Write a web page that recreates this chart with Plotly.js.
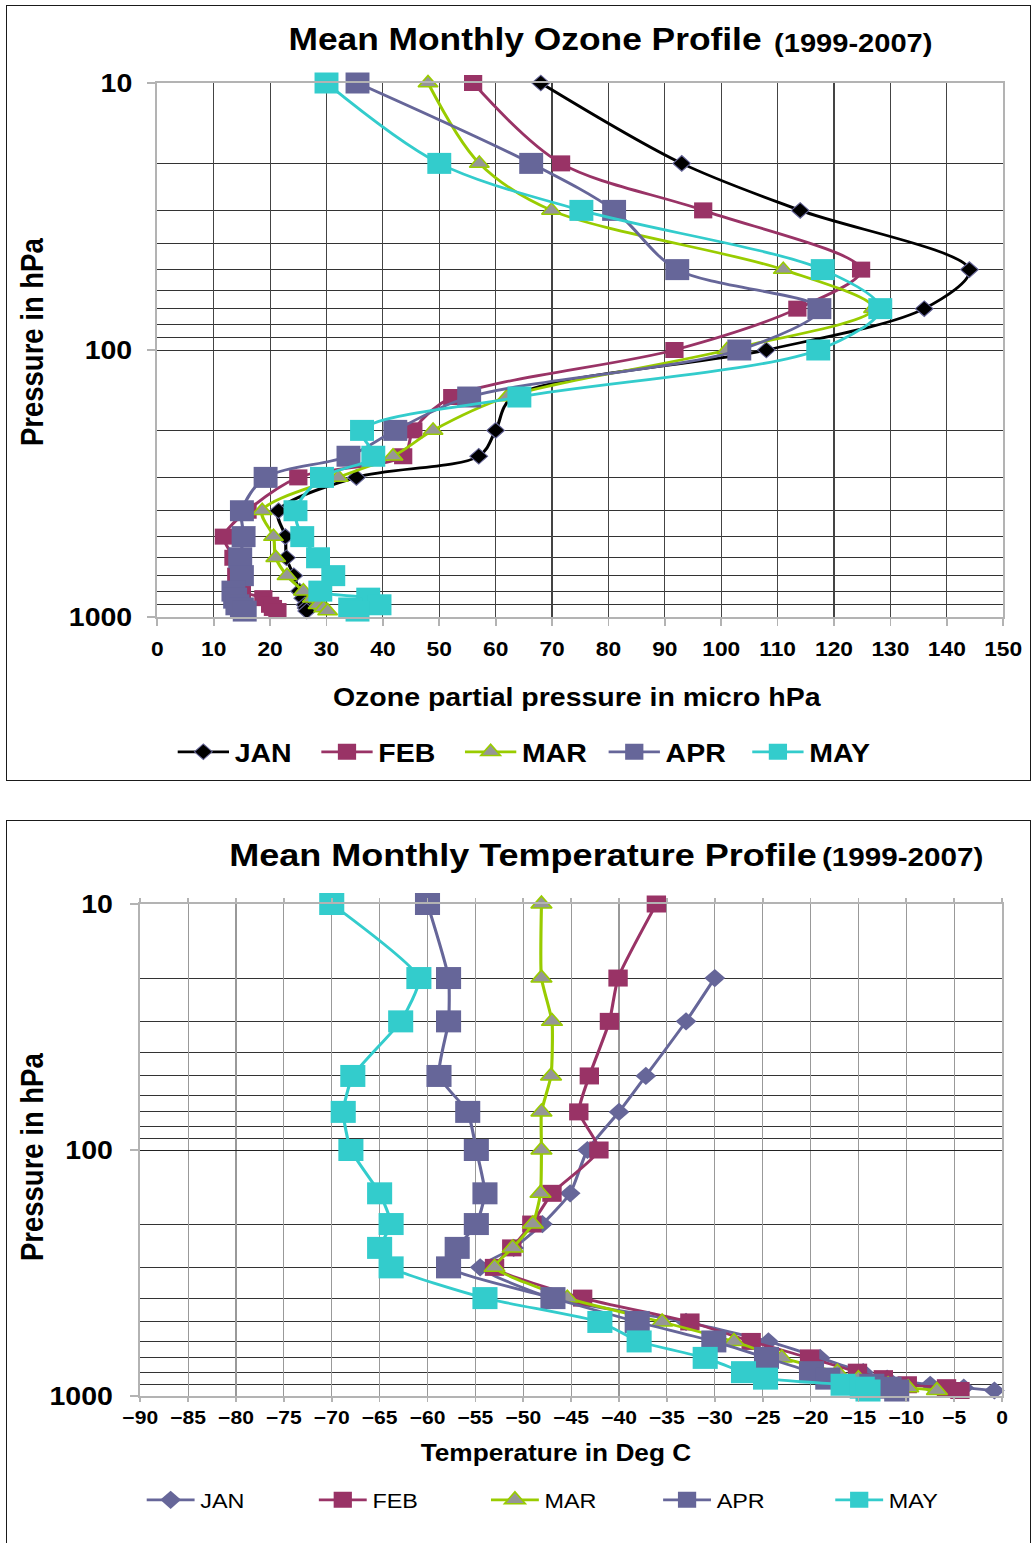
<!DOCTYPE html>
<html><head><meta charset="utf-8">
<script src="https://cdn.plot.ly/plotly-3.0.1.min.js"></script>
<style>
html,body{margin:0;padding:0;background:#fff;width:1034px;height:1543px;overflow:hidden;position:relative;}
.box{position:absolute;border:1.5px solid #1a1a1a;box-sizing:border-box;}
.stretch{position:absolute;left:0;transform:scaleX(1.14);transform-origin:0 0;}
</style></head><body>
<div class="box" style="left:6px;top:5px;width:1025px;height:776px;"></div>
<div class="box" style="left:6px;top:820px;width:1025px;height:760px;"></div>
<div id="oz" class="stretch" style="top:0;width:907px;height:800px;"></div>
<div id="tp" class="stretch" style="top:800px;width:907px;height:743px;"></div>
<script>
// ---------- DATA ----------
const PRESSURE = [10, 20, 30, 50, 70, 100, 150, 200, 250, 300, 400, 500, 600, 700, 800, 850, 900, 925, 950];
const MONTHS = ['JAN', 'FEB', 'MAR', 'APR', 'MAY'];

// Ozone partial pressure (micro hPa)
const OZONE_JAN = [68, 93, 114, 144, 136, 108, 63, 60, 57, 35.3, 21.5, 22.7, 22.9, 24.2, 25.2, 25.8, 26.2, 26.4, 26.5];
const OZONE_FEB = [56, 71.6, 96.8, 124.8, 113.5, 91.7, 52.3, 45.4, 43.6, 25, 16, 11.8, 13.5, 14, 15, 18.8, 20, 20.5, 21.3];
const OZONE_MAR = [48, 57.1, 69.9, 111, 127, 101, 62, 48.9, 41.8, 32.1, 18.6, 20.6, 21, 23, 25.9, 27.5, 28.5, 29.5, 30.2];
const OZONE_APR = [35.5, 66.3, 81, 92.2, 117.4, 103.2, 55.3, 42.2, 33.9, 19.2, 15, 15.3, 14.7, 15, 13.5, 13.8, 14.2, 15, 15.5];
const OZONE_MAY = [30, 50, 75.2, 118, 128.2, 117.2, 64.2, 36.3, 38.3, 29.2, 24.5, 25.7, 28.5, 31.2, 28.9, 37.4, 39.4, 34.2, 35.5];

// Temperature (deg C)
const TEMP_JAN = [null, -30, -33, -37.2, -40, -43.3, -45.1, -48, -51, -54.5, -47, -33, -24.4, -19, -14.5, -12, -7.5, -4, -0.8];
const TEMP_FEB = [-36.1, -40.1, -41, -43.1, -44.2, -42.1, -47, -49.1, -51.2, -53, -43.8, -32.6, -26.2, -20.1, -15.1, -12.4, -9.9, -5.8, -4.4];
const TEMP_MAR = [-48.1, -48.1, -47, -47.1, -48.1, -48.1, -48.2, -49, -51.1, -53, -45.4, -35.5, -28, -23, -17.2, -15, -11.9, -9.8, -6.8];
const TEMP_APR = [-60, -57.8, -57.8, -58.8, -55.8, -54.9, -54, -54.9, -56.9, -57.8, -46.9, -38.1, -30.1, -24.6, -19.9, -18.2, -13.6, -11.8, -11];
const TEMP_MAY = [-70, -60.9, -62.8, -67.8, -68.8, -68, -65, -63.8, -65, -63.8, -54, -42, -37.9, -31, -27, -24.7, -16.6, -14.6, -14];

const Y_MAJOR = [10, 100, 1000];
const Y_MINOR = [20, 30, 40, 50, 60, 70, 80, 90, 200, 300, 400, 500, 600, 700, 800, 900];

// ---------- STYLE ----------
const S = 1.14;
const FONT = 'Liberation Sans, Arial, sans-serif';
const C = {JAN: '#000000', JANT: '#666699', FEB: '#993366', MAR: '#99CC00', MARF: '#969696', APR: '#666699', MAY: '#33CCCC'};

function px(L, pageX) { return (pageX / S - L.l) / (L.W - L.l - L.r); }
function py(L, y) { return (L.H - L.b - y) / (L.H - L.t - L.b); }

function tr(name, xs, lineColor, symbol, size, fill, mline, mlw, smoothing) {
  return {
    type: 'scatter', mode: 'lines+markers', name: name, x: xs, y: PRESSURE,
    line: {color: lineColor, width: 2.75, shape: 'spline', smoothing: smoothing},
    marker: {symbol: symbol, size: size, color: fill, line: {color: mline, width: mlw}},
    cliponaxis: false
  };
}

// ---------- OZONE CHART ----------
const OZ = {W: 907, H: 800, l: 138, r: 27, t: 83, b: 183};
const ozTraces = [
  tr(MONTHS[0], OZONE_JAN, C.JAN, 'diamond', 12, C.JAN, '#666699', 1, 0.9),
  tr(MONTHS[1], OZONE_FEB, C.FEB, 'square', 16, C.FEB, C.FEB, 0, 0.9),
  tr(MONTHS[2], OZONE_MAR, C.MAR, 'triangle-up', 15, C.MARF, C.MAR, 1.5, 0.9),
  tr(MONTHS[3], OZONE_APR, C.APR, 'square', 21, C.APR, C.APR, 0, 0.9),
  tr(MONTHS[4], OZONE_MAY, C.MAY, 'square', 21, C.MAY, C.MAY, 0, 0.9)
];
const bold = (s) => ({family: FONT, size: s, color: '#000', weight: 'bold'});
const ozLayout = {
  width: OZ.W, height: OZ.H, margin: {l: OZ.l, r: OZ.r, t: OZ.t, b: OZ.b},
  paper_bgcolor: 'rgba(0,0,0,0)', plot_bgcolor: 'rgba(0,0,0,0)', showlegend: true,
  xaxis: {range: [0, 150], tickmode: 'linear', tick0: 0, dtick: 10, showgrid: true, gridcolor: '#444', gridwidth: 1,
    zeroline: false, showline: true, mirror: true, linecolor: '#b3b3b3', linewidth: 2,
    ticks: 'outside', ticklen: 7, tickcolor: '#b3b3b3', tickwidth: 1.5, tickfont: bold(20), ticklabelstandoff: 6, fixedrange: true},
  yaxis: {type: 'log', range: [3, 1], tickmode: 'array', tickvals: Y_MAJOR, ticktext: Y_MAJOR.map(String),
    showgrid: true, gridcolor: '#333', gridwidth: 1,
    minor: {tickmode: 'array', tickvals: Y_MINOR, showgrid: true, gridcolor: '#333', gridwidth: 1, ticks: ''},
    zeroline: false, showline: true, mirror: true, linecolor: '#b3b3b3', linewidth: 2,
    ticks: 'outside', ticklen: 7, tickcolor: '#b3b3b3', tickwidth: 1.5, tickfont: bold(25), ticklabelstandoff: 8, fixedrange: true},
  legend: {orientation: 'h', x: px(OZ, 172), xanchor: 'left', y: py(OZ, 752), yanchor: 'middle',
    font: bold(25), itemwidth: 45, entrywidth: 66, entrywidthmode: 'pixels', bgcolor: 'rgba(0,0,0,0)', traceorder: 'normal'},
  annotations: [
    {text: 'Mean Monthly Ozone Profile', x: px(OZ, 286), xanchor: 'left', y: py(OZ, 40), yanchor: 'middle', xref: 'paper', yref: 'paper', showarrow: false, font: bold(31)},
    {text: '(1999-2007)', x: px(OZ, 772), xanchor: 'left', y: py(OZ, 43), yanchor: 'middle', xref: 'paper', yref: 'paper', showarrow: false, font: bold(25.5)},
    {text: 'Ozone partial pressure in micro hPa', x: px(OZ, 577), xanchor: 'center', y: py(OZ, 697), yanchor: 'middle', xref: 'paper', yref: 'paper', showarrow: false, font: bold(25)},
    {text: 'Pressure in hPa', x: px(OZ, 32), xanchor: 'center', y: py(OZ, 342), yanchor: 'middle', xref: 'paper', yref: 'paper', showarrow: false, textangle: -90, font: bold(27.5)}
  ]
};
Plotly.newPlot('oz', ozTraces, ozLayout, {staticPlot: true, displayModeBar: false});

// ---------- TEMPERATURE CHART ----------
const TP = {W: 907, H: 743, l: 123, r: 28, t: 104, b: 147};
const tpTraces = [
  tr(MONTHS[0], TEMP_JAN, C.JANT, 'diamond', 14, C.JANT, C.JANT, 0, 0.5),
  tr(MONTHS[1], TEMP_FEB, C.FEB, 'square', 17, C.FEB, C.FEB, 0, 0.5),
  tr(MONTHS[2], TEMP_MAR, C.MAR, 'triangle-up', 16, C.MARF, C.MAR, 1.5, 0.5),
  tr(MONTHS[3], TEMP_APR, C.APR, 'square', 22, C.APR, C.APR, 0, 0.5),
  tr(MONTHS[4], TEMP_MAY, C.MAY, 'square', 22, C.MAY, C.MAY, 0, 0.5)
];
const tpLayout = {
  width: TP.W, height: TP.H, margin: {l: TP.l, r: TP.r, t: TP.t, b: TP.b},
  paper_bgcolor: 'rgba(0,0,0,0)', plot_bgcolor: 'rgba(0,0,0,0)', showlegend: true,
  xaxis: {range: [-90, 0], tickmode: 'linear', tick0: -90, dtick: 5, showgrid: true, gridcolor: '#999', gridwidth: 1,
    zeroline: false, showline: true, mirror: 'ticks', linecolor: '#b3b3b3', linewidth: 2,
    ticks: 'outside', ticklen: 4, tickcolor: '#b3b3b3', tickwidth: 1.5, tickfont: bold(18.5), ticklabelstandoff: 0, fixedrange: true},
  yaxis: {type: 'log', range: [3, 1], tickmode: 'array', tickvals: Y_MAJOR, ticktext: Y_MAJOR.map(String),
    showgrid: true, gridcolor: '#222', gridwidth: 1,
    minor: {tickmode: 'array', tickvals: Y_MINOR, showgrid: true, gridcolor: '#333', gridwidth: 1, ticks: ''},
    zeroline: false, showline: true, mirror: true, linecolor: '#b3b3b3', linewidth: 2,
    ticks: 'outside', ticklen: 7, tickcolor: '#b3b3b3', tickwidth: 1.5, tickfont: bold(25), ticklabelstandoff: 10, fixedrange: true},
  legend: {orientation: 'h', x: px(TP, 141), xanchor: 'left', y: py(TP, 700), yanchor: 'middle',
    font: {family: FONT, size: 20.5, color: '#000'}, itemwidth: 42, entrywidth: 94, entrywidthmode: 'pixels', bgcolor: 'rgba(0,0,0,0)', traceorder: 'normal'},
  annotations: [
    {text: 'Mean Monthly Temperature Profile', x: px(TP, 227), xanchor: 'left', y: py(TP, 55), yanchor: 'middle', xref: 'paper', yref: 'paper', showarrow: false, font: bold(31.6)},
    {text: '(1999-2007)', x: px(TP, 820), xanchor: 'left', y: py(TP, 57), yanchor: 'middle', xref: 'paper', yref: 'paper', showarrow: false, font: bold(26)},
    {text: 'Temperature in Deg C', x: px(TP, 556), xanchor: 'center', y: py(TP, 653), yanchor: 'middle', xref: 'paper', yref: 'paper', showarrow: false, font: bold(23)},
    {text: 'Pressure in hPa', x: px(TP, 32), xanchor: 'center', y: py(TP, 1157 - 800), yanchor: 'middle', xref: 'paper', yref: 'paper', showarrow: false, textangle: -90, font: bold(27.5)}
  ]
};
Plotly.newPlot('tp', tpTraces, tpLayout, {staticPlot: true, displayModeBar: false});
</script>
</body></html>
